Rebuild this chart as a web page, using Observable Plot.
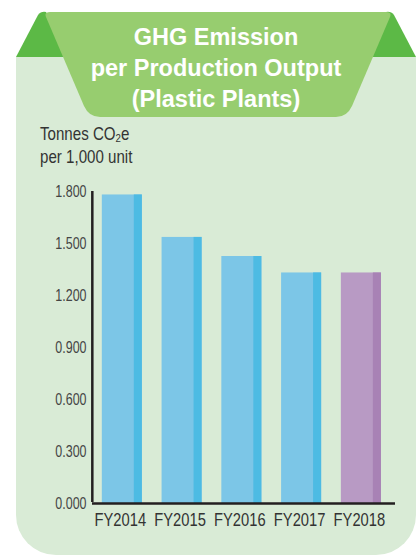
<!DOCTYPE html>
<html>
<head>
<meta charset="utf-8">
<script src="https://cdn.jsdelivr.net/npm/d3@7"></script>
<script src="https://cdn.jsdelivr.net/npm/@observablehq/plot@0.6"></script>
<style>
  html, body { margin: 0; padding: 0; background: #ffffff; }
  #wrap { position: relative; width: 416px; height: 556px; overflow: hidden; }
  #bg, #chart { position: absolute; left: 0; top: 0; }
  #chart svg { background: transparent; }
</style>
</head>
<body>
<div id="wrap">
  <svg id="bg" width="416" height="556" viewBox="0 0 416 556">
    <path d="M16 57 H416 V515 A40 40 0 0 1 376 555 H56 A40 40 0 0 1 16 515 Z" fill="#d9ebd6"/>
    <path d="M16 57 L38 15 Q41 11 46 12 L72 57 Z" fill="#5cb946"/>
    <path d="M416 57 L394 15 Q391 11 386 12 L360 57 Z" fill="#5cb946"/>
    <path d="M50 12 H386 Q392 12 390 17 L352 106 Q347 117 336 117 H100 Q89 117 84 106 L46 17 Q44 12 50 12 Z" fill="#97cd6f"/>
    <g font-family="'Liberation Sans', Arial, Helvetica, sans-serif" font-weight="bold" font-size="23.5" fill="#ffffff" text-anchor="middle">
      <text x="216" y="45">GHG Emission</text>
      <text x="216" y="76">per Production Output</text>
      <text x="216" y="107">(Plastic Plants)</text>
    </g>
    <g font-family="'Liberation Sans', Arial, Helvetica, sans-serif" font-size="18" fill="#333333">
      <text transform="translate(40,140) scale(0.84,1)">Tonnes CO<tspan font-size="11.5" dy="2">2</tspan><tspan dy="-2">e</tspan></text>
      <text transform="translate(40,163) scale(0.84,1)">per 1,000 unit</text>
    </g>
  </svg>
  <div id="chart"></div>
</div>
<script>
const years = ["FY2014", "FY2015", "FY2016", "FY2017", "FY2018"];
const values = [1.78, 1.535, 1.425, 1.33, 1.33];
const lightColors = ["#7cc6e7", "#7cc6e7", "#7cc6e7", "#7cc6e7", "#b89ac4"];
const darkColors = ["#4dbbe3", "#4dbbe3", "#4dbbe3", "#4dbbe3", "#a882b5"];
const yTicks = [0, 0.3, 0.6, 0.9, 1.2, 1.5, 1.8];

const data = years.map((year, i) => ({year, value: values[i], light: lightColors[i], dark: darkColors[i]}));

const chart = Plot.plot({
  width: 416,
  height: 556,
  marginLeft: 92,
  marginRight: 21,
  marginTop: 191,
  marginBottom: 53,
  style: {background: "transparent", overflow: "visible", fontFamily: "'Liberation Sans', Arial, Helvetica, sans-serif"},
  x: {domain: years, paddingInner: 0.33, paddingOuter: 0.2, align: 0.41, round: false},
  y: {domain: [0, 1.8]},
  marks: [
    Plot.barY(data, {x: "year", y: "value", fill: "light"}),
    Plot.barY(data, {x: "year", y: "value", fill: "dark", insetLeft: 32}),
    Plot.axisY({ticks: yTicks, tickFormat: d3.format(".3f"), tickSize: 0, tickPadding: 6, fontSize: 16, fill: "#444444", label: null}),
    Plot.axisX({tickSize: 0, tickPadding: 10, fontSize: 18, fill: "#333333", dx: -2, label: null}),
    Plot.ruleX([0], {x: () => years[0], y1: 0, y2: 1.8, dx: -30, insetTop: -1, stroke: "#231f20", strokeWidth: 2.5}),
    Plot.ruleY([0], {stroke: "#231f20", strokeWidth: 2.5})
  ]
});

// condense tick labels horizontally (narrow typeface look)
function condense(selector, s) {
  chart.querySelectorAll(selector + " text").forEach(t => {
    const tr = t.getAttribute("transform");
    if (tr) {
      t.setAttribute("transform", tr + ` scale(${s},1)`);
    } else {
      const x = +t.getAttribute("x") || 0, y = +t.getAttribute("y") || 0;
      t.removeAttribute("x"); t.removeAttribute("y");
      t.setAttribute("transform", `translate(${x},${y}) scale(${s},1)`);
    }
  });
}
condense("g[aria-label='x-axis tick label']", 0.82);
condense("g[aria-label='y-axis tick label']", 0.78);
document.getElementById("chart").appendChild(chart);
</script>
</body>
</html>
